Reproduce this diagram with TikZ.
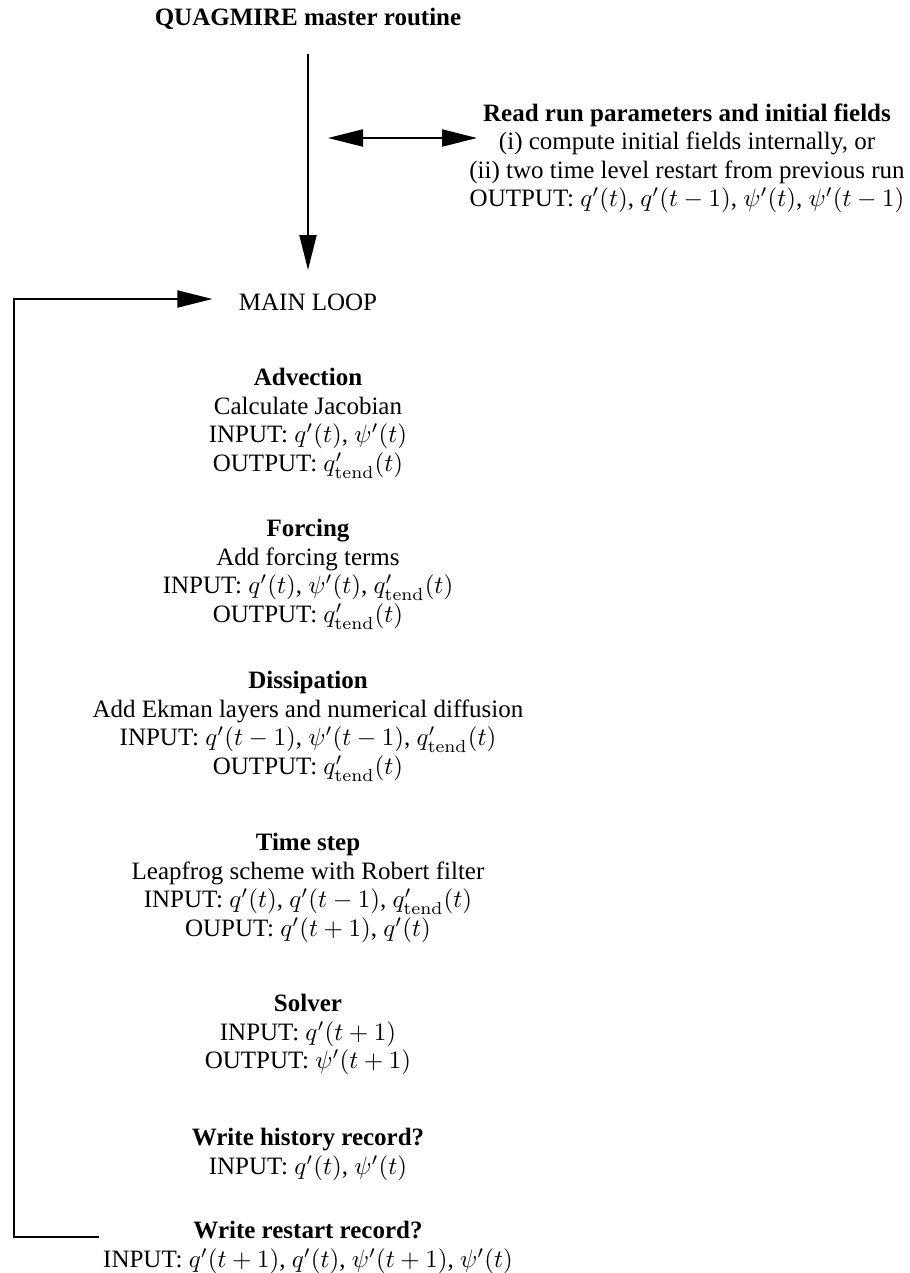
\documentclass[tikz,border=0pt]{standalone}
\usepackage[no-math]{fontspec}
\setmainfont{Liberation Serif}
\usetikzlibrary{arrows.meta}
\begin{document}
\begin{tikzpicture}[x=0.4pt,y=-0.4pt,
  txt/.style={align=center,inner sep=0pt,anchor=north,font=\fontsize{10}{11.4}\selectfont},
  head/.tip={Triangle[length=14pt,width=6.8pt]},
  conn/.style={line width=0.8pt,-head},
  dconn/.style={line width=0.8pt,head-head}]
\useasboundingbox (0,0) rectangle (909,1273);

\node[txt] (title) at (308,8) {\textbf{QUAGMIRE master routine}};

\node[txt] (read) at (687,103) {\textbf{Read run parameters and initial fields}\\
(i) compute initial fields internally, or\\
(ii) two time level restart from previous run\\
OUTPUT: $q'(t)$, $q'(t-1)$, $\psi'(t)$, $\psi'(t-1)$};

\node[txt] (mainloop) at (308,293) {MAIN LOOP};

\node[txt] (advection) at (308,368) {\textbf{Advection}\\
Calculate Jacobian\\
INPUT: $q'(t)$, $\psi'(t)$\\
OUTPUT: $q'_{\mathrm{tend}}(t)$};

\node[txt] (forcing) at (308,519) {\textbf{Forcing}\\
Add forcing terms\\
INPUT: $q'(t)$, $\psi'(t)$, $q'_{\mathrm{tend}}(t)$\\
OUTPUT: $q'_{\mathrm{tend}}(t)$};

\node[txt] (dissipation) at (308,671) {\textbf{Dissipation}\\
Add Ekman layers and numerical diffusion\\
INPUT: $q'(t-1)$, $\psi'(t-1)$, $q'_{\mathrm{tend}}(t)$\\
OUTPUT: $q'_{\mathrm{tend}}(t)$};

\node[txt] (timestep) at (308,833) {\textbf{Time step}\\
Leapfrog scheme with Robert filter\\
INPUT: $q'(t)$, $q'(t-1)$, $q'_{\mathrm{tend}}(t)$\\
OUPUT: $q'(t+1)$, $q'(t)$};

\node[txt] (solver) at (308,994) {\textbf{Solver}\\
INPUT: $q'(t+1)$\\
OUTPUT: $\psi'(t+1)$};

\node[txt] (history) at (308,1128) {\textbf{Write history record?}\\
INPUT: $q'(t)$, $\psi'(t)$};

\node[txt] (restart) at (308,1221) {\textbf{Write restart record?}\\
INPUT: $q'(t+1)$, $q'(t)$, $\psi'(t+1)$, $\psi'(t)$};

% main vertical arrow
\draw[conn,shorten <=9.6pt,shorten >=9.2pt] (title) -- (mainloop);

% double arrow to read block
\coordinate (dl) at (328,138);
\coordinate (dr) at (477,138);
\draw[dconn] (dl) -- (dr);

% loop back
\coordinate (lb) at (99,1237);
\coordinate (lc) at (14,299);
\draw[conn,shorten >=10.4pt] (lb) -| (lc) -- (lc -| mainloop.west);
\end{tikzpicture}
\end{document}
